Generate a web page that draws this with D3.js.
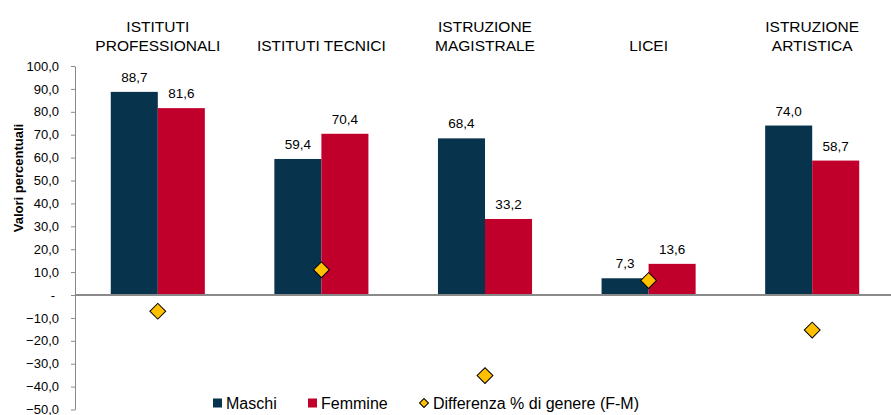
<!DOCTYPE html>
<html>
<head>
<meta charset="utf-8">
<script src="https://cdn.jsdelivr.net/npm/d3@7"></script>
<style>
  body { margin: 0; background: #fff; }
  text { font-family: "Liberation Sans", Arial, sans-serif; }
</style>
</head>
<body>
<script>
const categories = [
  ['ISTITUTI', 'PROFESSIONALI'],
  ['ISTITUTI TECNICI'],
  ['ISTRUZIONE', 'MAGISTRALE'],
  ['LICEI'],
  ['ISTRUZIONE', 'ARTISTICA']
];
const series = ['Maschi', 'Femmine'];
const maschi = [88.7, 59.4, 68.4, 7.3, 74.0];
const femmine = [81.6, 70.4, 33.2, 13.6, 58.7];
const differenza = [-7.1, 11.0, -35.2, 6.3, -15.3];
const yTicks = [-50, -40, -30, -20, -10, 0, 10, 20, 30, 40, 50, 60, 70, 80, 90, 100];
const colors = { Maschi: '#07334d', Femmine: '#c0002b' };
const diamondFill = '#ffc000';

const width = 891, height = 415;

const svg = d3.select('body').append('svg')
  .attr('width', width)
  .attr('height', height);

const keys = categories.map((c, i) => i);

const x0 = d3.scaleBand()
  .domain(keys)
  .range([76, 894])
  .paddingInner(0.425)
  .paddingOuter(0.2125);

const x1 = d3.scaleBand()
  .domain(series)
  .range([0, x0.bandwidth()]);

const y = d3.scaleLinear()
  .domain([-50, 100])
  .range([409.5, 66]);

const fmt = v => d3.format('.1f')(v).replace('.', ',');

// y axis
const yAxis = svg.append('g')
  .attr('transform', 'translate(75,0)')
  .call(d3.axisLeft(y)
    .tickValues(yTicks)
    .tickSize(4)
    .tickSizeOuter(0)
    .tickPadding(12)
    .tickFormat(d => d === 0 ? '-' : fmt(d)));
yAxis.select('.domain').attr('stroke', '#8a8a8a');
yAxis.selectAll('.tick line').attr('stroke', '#8a8a8a');
yAxis.selectAll('.tick text')
  .attr('font-size', 13)
  .attr('fill', '#000')
  .attr('font-family', '"Liberation Sans", Arial, sans-serif');
yAxis.selectAll('.tick').filter(d => d === 0).select('text').attr('x', -20);

svg.append('text')
  .attr('transform', 'translate(23,178) rotate(-90)')
  .attr('text-anchor', 'middle')
  .attr('font-size', 13)
  .attr('font-weight', 'bold')
  .text('Valori percentuali');

// bars
const rows = keys.map(i => ({ i, values: [ { key: 'Maschi', v: maschi[i] }, { key: 'Femmine', v: femmine[i] } ] }));

const groups = svg.selectAll('g.group')
  .data(rows).enter()
  .append('g')
  .attr('class', 'group')
  .attr('transform', d => `translate(${x0(d.i)},0)`);

groups.selectAll('rect')
  .data(d => d.values).enter()
  .append('rect')
  .attr('x', d => x1(d.key))
  .attr('y', d => y(d.v))
  .attr('width', x1.bandwidth())
  .attr('height', d => y(0) - y(d.v))
  .attr('fill', d => colors[d.key]);

groups.selectAll('text.val')
  .data(d => d.values).enter()
  .append('text')
  .attr('class', 'val')
  .attr('x', d => x1(d.key) + x1.bandwidth() / 2)
  .attr('y', d => y(d.v) - 10)
  .attr('text-anchor', 'middle')
  .attr('font-size', 13.5)
  .text(d => fmt(d.v));

// zero line
svg.append('line')
  .attr('x1', 75).attr('x2', width)
  .attr('y1', y(0)).attr('y2', y(0))
  .attr('stroke', '#8a8a8a')
  .attr('stroke-width', 2);

// category labels
const cat = svg.selectAll('text.cat')
  .data(categories).enter()
  .append('text')
  .attr('class', 'cat')
  .attr('text-anchor', 'middle')
  .attr('font-size', 15.5)
  .attr('x', (d, i) => x0(i) + x0.bandwidth() / 2);
cat.selectAll('tspan')
  .data(d => d.map((t, j) => ({ t, line: j + (2 - d.length) }))).enter()
  .append('tspan')
  .attr('x', function() { return d3.select(this.parentNode).attr('x'); })
  .attr('y', d => 32 + d.line * 19)
  .text(d => d.t);

// diamonds
svg.selectAll('path.diff')
  .data(differenza).enter()
  .append('path')
  .attr('class', 'diff')
  .attr('transform', (d, i) => `translate(${x0(i) + x0.bandwidth() / 2},${y(d)}) rotate(45)`)
  .attr('d', d3.symbol().type(d3.symbolSquare).size(125))
  .attr('fill', diamondFill)
  .attr('stroke', '#000')
  .attr('stroke-width', 1);

// legend
const legend = svg.append('g');
const ly = 403;
legend.append('rect').attr('x', 213).attr('y', ly - 4.5).attr('width', 9).attr('height', 9).attr('fill', colors.Maschi);
legend.append('text').attr('x', 226).attr('y', ly + 6).attr('font-size', 16).text('Maschi');
legend.append('rect').attr('x', 308).attr('y', ly - 4.5).attr('width', 9).attr('height', 9).attr('fill', colors.Femmine);
legend.append('text').attr('x', 321).attr('y', ly + 6).attr('font-size', 16).text('Femmine');
legend.append('path')
  .attr('transform', `translate(424,${ly}) rotate(45)`)
  .attr('d', d3.symbol().type(d3.symbolSquare).size(40))
  .attr('fill', diamondFill)
  .attr('stroke', '#000')
  .attr('stroke-width', 1);
legend.append('text').attr('x', 433).attr('y', ly + 6).attr('font-size', 16).text('Differenza % di genere (F-M)');
</script>
</body>
</html>
